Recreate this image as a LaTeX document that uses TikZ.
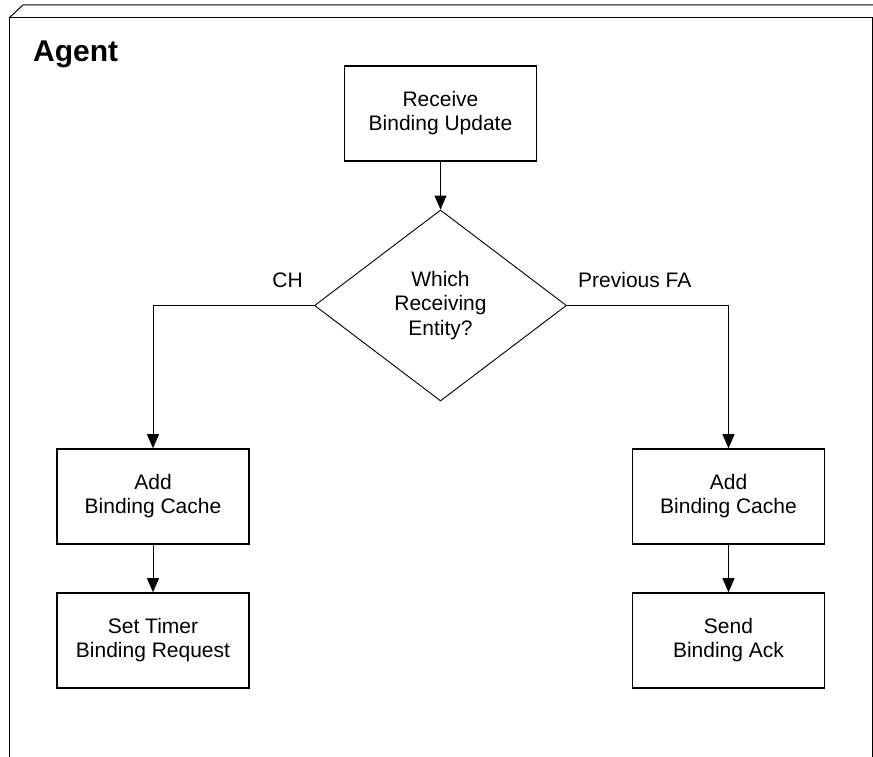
\documentclass[tikz,border=0pt]{standalone}
\usepackage{fontspec}
\setmainfont{Liberation Sans}
\usetikzlibrary{shapes.geometric,arrows.meta}
\begin{document}
\begin{tikzpicture}[x=1pt,y=-1pt,
  stepbox/.style={draw, line width=1.6pt, minimum width=192pt, minimum height=95pt,
    align=center, inner sep=0pt, font=\fontsize{21}{24}\selectfont},
  decision/.style={draw, diamond, line width=0.9pt, minimum width=252pt,
    minimum height=191pt, inner sep=0pt, align=center,
    font=\fontsize{21}{24.5}\selectfont},
  flow/.style={line width=0.9pt, -{Triangle[length=14pt,width=12pt]}},
  edgelabel/.style={font=\fontsize{21}{24}\selectfont, inner sep=0pt},
  frame/.style={line width=1pt}]
\useasboundingbox (0,0) rectangle (873,757);

% enclosing box (drawn in perspective, running off the page)
\draw[frame] (9,770) -- (9,18) -- (872,18) -- (872,770);
\draw[frame] (9,18) -- (23,5) -- (880,5);

\node[font=\bfseries\fontsize{30}{32}\selectfont, anchor=base west, inner sep=0pt]
  (title) at (33,62) {Agent};

% process steps
\node[stepbox] (recv)  at (440.5,113.5) {Receive\\Binding Update};
\node[decision] (which) at (440.5,305.5) {Which\\Receiving\\Entity?};
\node[stepbox] (addL)  at (153,496.5) {Add\\Binding Cache};
\node[stepbox] (timer) at (153,640.5) {Set Timer\\Binding Request};
\node[stepbox] (addR)  at (728.5,496.5) {Add\\Binding Cache};
\node[stepbox] (send)  at (728.5,640.5) {Send\\Binding Ack};

% branch labels
\node[edgelabel, anchor=base east] (chlbl) at (303,287) {CH};
\node[edgelabel, anchor=base west] (falbl) at (578,287) {Previous FA};

% connectors
\draw[flow] (recv.south) -- (which.north);
\draw[flow] (which.west) -| (addL.north);
\draw[flow] (which.east) -| (addR.north);
\draw[flow] (addL) -- (timer);
\draw[flow] (addR) -- (send);
\end{tikzpicture}
\end{document}
